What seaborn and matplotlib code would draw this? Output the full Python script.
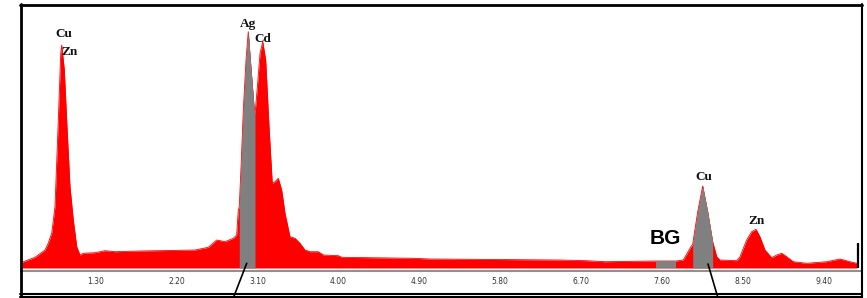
import matplotlib
matplotlib.use("Agg")
import matplotlib.pyplot as plt
from matplotlib.lines import Line2D
import pandas as pd
import seaborn as sns

# EDS spectrum (energy in keV, counts in arbitrary units)
energy_kev = [0.480, 0.625, 0.736, 0.773, 0.811, 0.847, 0.884, 0.911, 0.922, 0.951,
              0.977, 1.014, 1.051, 1.089, 1.125, 1.162, 1.292, 1.403, 1.515, 1.793,
              2.126, 2.405, 2.553, 2.646, 2.738, 2.831, 2.868, 2.886, 2.897, 2.920,
              2.942, 2.972, 2.997, 3.016, 3.035, 3.064, 3.072, 3.100, 3.128, 3.158,
              3.191, 3.228, 3.264, 3.294, 3.331, 3.369, 3.406, 3.461, 3.517, 3.573,
              3.628, 3.684, 3.776, 3.832, 3.999, 4.036, 4.833, 5.019, 6.465, 6.762,
              6.965, 7.533, 7.755, 7.836, 7.911, 7.941, 7.996, 8.052, 8.108, 8.163,
              8.178, 8.208, 8.244, 8.430, 8.467, 8.541, 8.597, 8.645, 8.689, 8.745,
              8.820, 8.875, 8.931, 8.986, 9.060, 9.209, 9.431, 9.579, 9.690, 9.768]
counts = [57, 107, 180, 250, 350, 613, 1480, 2150, 2230, 1980,
          1480, 813, 480, 213, 130, 147, 153, 173, 163, 170,
          175, 180, 207, 280, 263, 297, 330, 580, 613, 1080,
          1580, 2080, 2363, 2130, 1913, 1580, 1537, 1830, 2147, 2263,
          2080, 1413, 847, 863, 897, 780, 547, 313, 297, 247,
          180, 163, 163, 130, 123, 107, 97, 90, 80, 73,
          63, 70, 70, 80, 197, 240, 560, 820, 560, 263,
          213, 113, 80, 73, 113, 280, 363, 387, 313, 180,
          103, 130, 147, 113, 63, 47, 63, 90, 63, 47]

# regions of interest shaded grey (start, end in keV)
roi_start = [2.897, 7.533, 7.941]
roi_end = [3.072, 7.755, 8.163]

peak_names = ["Cu", "Zn", "Ag", "Cd", "Cu", "Zn"]
peak_kev = [0.940, 1.014, 2.997, 3.161, 8.059, 8.653]
peak_counts = [2340, 2163, 2440, 2287, 913, 470]

tick_kev = [1.30, 2.20, 3.10, 4.00, 4.90, 5.80, 6.70, 7.60, 8.50, 9.40]
tick_labels = ["1.30", "2.20", "3.10", "4.00", "4.90", "5.80", "6.70", "7.60", "8.50", "9.40"]

cursor_kev = 9.78

df = pd.DataFrame({"keV": energy_kev, "counts": counts})

sns.set_style("white")
plt.rcParams["font.family"] = ["DejaVu Sans"]

W, H = 867, 298
fig = plt.figure(figsize=(W / 100, H / 100), dpi=100)
ax = fig.add_axes([21 / W, 27 / H, 840 / W, 267 / H])

sns.lineplot(data=df, x="keV", y="counts", color="#ff0000", lw=0.6, ax=ax, zorder=2)
ax.fill_between(df["keV"], 0, df["counts"], color="#ff0000", lw=0, zorder=2)
for lo, hi in zip(roi_start, roi_end):
    m = (df["keV"] >= lo - 1e-9) & (df["keV"] <= hi + 1e-9)
    ax.fill_between(df["keV"], 0, df["counts"], where=m, color="#808080", lw=0, zorder=3)

ax.vlines(cursor_kev, 0, 250, color="black", lw=1.6, zorder=4)

for name, x, y in zip(peak_names, peak_kev, peak_counts):
    ax.text(x, y, name, ha="center", va="center", fontsize=9.5, fontweight="bold",
            family="Liberation Serif", color="#111111")
ax.text(7.633, 290, "BG", ha="center", va="center", fontsize=15, fontweight="bold",
        family="Liberation Sans", color="black")

ax.set_xlim(0.469, 9.813)
ax.set_ylim(-30, 2640)
ax.set_xticks(tick_kev, tick_labels)
ax.set_yticks([])
ax.set_xlabel("")
ax.set_ylabel("")
ax.tick_params(axis="x", direction="inout", length=4, width=1, color="#222222",
               labelsize=5.5, pad=2, labelcolor="#333333")
for s in ["top", "left", "right"]:
    ax.spines[s].set_visible(False)
ax.spines["bottom"].set_color("#909090")
ax.spines["bottom"].set_linewidth(1.5)

# frame and pointer lines in pixel space
def px_line(x0, y0, x1, y1, lw=1.5):
    fig.add_artist(Line2D([x0 / W, x1 / W], [1 - y0 / H, 1 - y1 / H],
                          color="black", lw=lw, transform=fig.transFigure))

px_line(20.5, 4, 20.5, 298, 2)
px_line(20, 4.5, 862, 4.5, 2)
px_line(861.5, 4, 861.5, 298, 1.5)
px_line(20, 293.5, 862, 293.5, 1.5)
px_line(20, 297.3, 862, 297.3, 1.5)
px_line(246.7, 263.3, 233.3, 298, 1.2)
px_line(708, 264, 718, 298, 1.2)

fig.savefig("out.png", dpi=100)
